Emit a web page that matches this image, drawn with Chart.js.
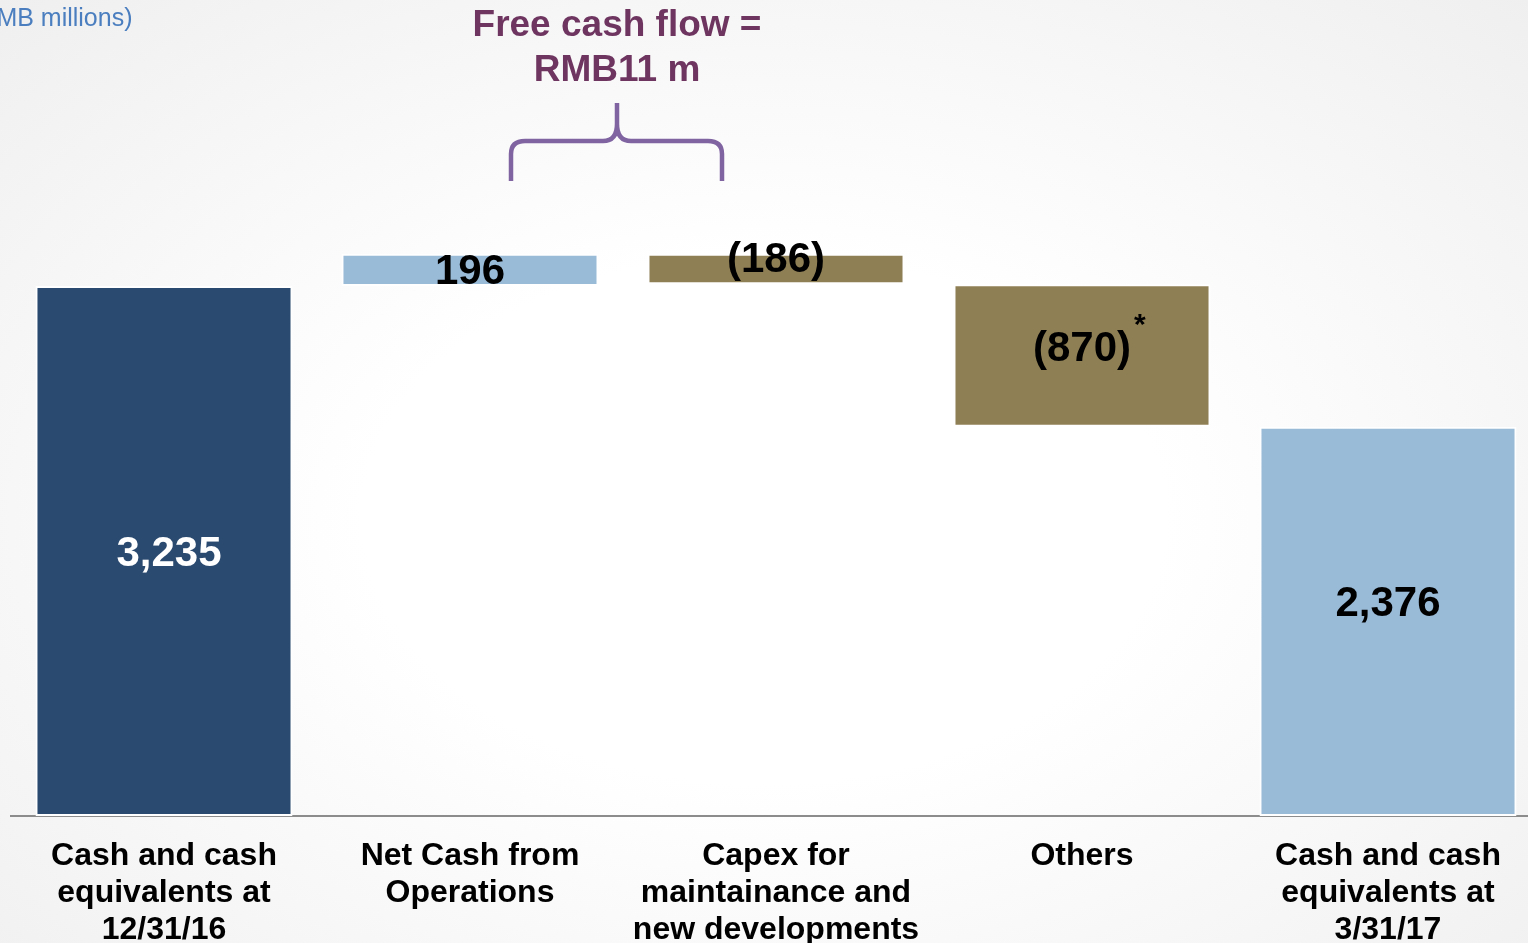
<!DOCTYPE html>
<html>
<head>
<meta charset="utf-8">
<script src="https://cdn.jsdelivr.net/npm/chart.js@4/dist/chart.umd.min.js"></script>
<style>
    html, body {
        margin: 0;
        width: 1528px;
        height: 943px;
        overflow: hidden;
        background: radial-gradient(ellipse 75% 80% at 50% 55%, #ffffff 35%, #eeeeee 100%);
        font-family: 'Liberation Sans', Arial, sans-serif;
    }
    #wrap {
        position: absolute;
        left: 0;
        top: 0;
        width: 1545px;
        height: 943px;
    }
</style>
</head>
<body>
<div id="wrap"><canvas id="chart"></canvas></div>
<script>
const categories = [
    ['Cash and cash', 'equivalents at', '12/31/16'],
    ['Net Cash from', 'Operations'],
    ['Capex for', 'maintainance and', 'new developments'],
    ['Others'],
    ['Cash and cash', 'equivalents at', '3/31/17']
]
// first and last are balances, the middle ones are movements
const flows = [3235, 196, -186, -870, 2376]
const barColors = ['#2b4a6f', '#9abbd8', '#8f7f55', '#8f7f55', '#9abbd8']
const labelColors = ['#ffffff', '#000000', '#000000', '#000000', '#000000']
const footnoteMarks = ['', '', '', '*', '']

const FONT = "'Liberation Sans', Arial, sans-serif"

// floating ranges for the waterfall
const ranges = []
let running = 0
flows.forEach((v, i) => {
    if (i === 0 || i === flows.length - 1) {
        ranges.push([0, v])
        running = v
    } else {
        ranges.push([running, running + v])
        running += v
    }
})

const fmt = v => v < 0 ? '(' + Math.abs(v).toLocaleString('en-US') + ')' : v.toLocaleString('en-US')

const valueLabels = {
    id: 'valueLabels',
    afterDatasetsDraw(chart, args, opts) {
        const ctx = chart.ctx
        const meta = chart.getDatasetMeta(0)
        ctx.save()
        ctx.font = 'bold 42px ' + FONT
        ctx.textAlign = 'center'
        ctx.textBaseline = 'middle'
        meta.data.forEach((bar, i) => {
            const y = (bar.y + bar.base) / 2 + opts.shift[i]
            const text = fmt(flows[i])
            ctx.fillStyle = labelColors[i]
            ctx.fillText(text, bar.x + opts.dx[i], y)
            if (footnoteMarks[i]) {
                const w = ctx.measureText(text).width
                ctx.save()
                ctx.font = 'bold 30px ' + FONT
                ctx.textAlign = 'left'
                ctx.fillText(footnoteMarks[i], bar.x + opts.dx[i] + w / 2 + 3, y - 24)
                ctx.restore()
            }
        })
        ctx.restore()
    }
}

const annotations = {
    id: 'annotations',
    afterDraw(chart) {
        const ctx = chart.ctx
        ctx.save()
        // unit note, top left
        ctx.font = '25px ' + FONT
        ctx.fillStyle = '#4a7ebf'
        ctx.textBaseline = 'middle'
        ctx.textAlign = 'left'
        ctx.fillText('(RMB millions)', -30, 19)

        // free cash flow heading
        ctx.font = 'bold 37px ' + FONT
        ctx.fillStyle = '#6e3560'
        ctx.textAlign = 'center'
        ctx.fillText('Free cash flow =', 617, 26)
        ctx.fillText('RMB11 m', 617, 71)

        // curly brace over the two movements
        ctx.strokeStyle = '#8064a2'
        ctx.lineWidth = 4.5
        ctx.lineJoin = 'round'
        ctx.beginPath()
        ctx.moveTo(511, 181)
        ctx.lineTo(511, 154)
        ctx.quadraticCurveTo(511, 141, 525, 141)
        ctx.lineTo(603, 141)
        ctx.quadraticCurveTo(617, 141, 617, 124)
        ctx.lineTo(617, 103)
        ctx.moveTo(617, 124)
        ctx.quadraticCurveTo(617, 141, 631, 141)
        ctx.lineTo(708, 141)
        ctx.quadraticCurveTo(722, 141, 722, 154)
        ctx.lineTo(722, 181)
        ctx.stroke()
        ctx.restore()
    }
}

new Chart(document.getElementById('chart'), {
    type: 'bar',
    data: {
        labels: categories,
        datasets: [{
            data: ranges,
            backgroundColor: barColors,
            borderColor: '#ffffff',
            borderWidth: 2,
            borderSkipped: false,
            barPercentage: 0.84,
            categoryPercentage: 1
        }]
    },
    plugins: [valueLabels, annotations],
    options: {
        responsive: true,
        maintainAspectRatio: false,
        animation: false,
        layout: {
            padding: { left: 11, right: 4, top: 0, bottom: 0 }
        },
        scales: {
            x: {
                afterFit: (scale) => { scale.height = 127 },
                grid: { display: false, drawTicks: false },
                border: { display: true, color: '#8c8c8c', width: 2 },
                ticks: {
                    color: '#000000',
                    padding: 22,
                    maxRotation: 0,
                    autoSkip: false,
                    font: { family: FONT, size: 32, weight: 'bold', lineHeight: 1.15 }
                }
            },
            y: {
                display: false,
                min: 0,
                max: 4980
            }
        },
        plugins: {
            legend: { display: false },
            tooltip: { enabled: false },
            valueLabels: {
                shift: [3, 3, -9, -6, -17],
                dx: [5, 0, 0, 0, 0]
            }
        }
    }
})
</script>
</body>
</html>
